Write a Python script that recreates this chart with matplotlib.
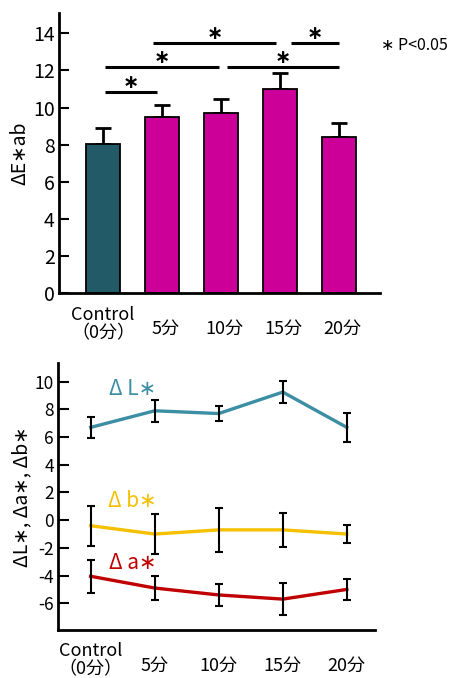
import matplotlib
matplotlib.use("Agg")
import matplotlib.pyplot as plt
import numpy as np

plt.rcParams['font.family'] = ['Noto Sans CJK JP', 'DejaVu Sans']

# ---- data ----
categories = ["Control\n（0分）", "5分", "10分", "15分", "20分"]
dE_mean = [8.05, 9.5, 9.7, 11.0, 8.4]
dE_err = [0.85, 0.63, 0.77, 0.86, 0.79]

dL_mean = [6.7, 7.9, 7.7, 9.25, 6.7]
dL_err = [0.73, 0.78, 0.56, 0.77, 1.06]
db_mean = [-0.4, -1.0, -0.7, -0.7, -1.0]
db_err = [1.46, 1.42, 1.6, 1.24, 0.67]
da_mean = [-4.05, -4.9, -5.4, -5.7, -5.0]
da_err = [1.2, 0.85, 0.8, 1.18, 0.75]

# significance brackets: (x_start, x_end, y)
sig_lines = [(0.03, 0.92, 10.85), (0.03, 1.97, 12.2), (2.1, 4.0, 12.2),
             (0.85, 2.93, 13.46), (3.19, 4.0, 13.46)]

bar_colors = ["#235a68", "#cc0099", "#cc0099", "#cc0099", "#cc0099"]
c_L = "#3b8ea3"
c_b = "#f5c000"
c_a = "#c00000"

fig = plt.figure(figsize=(4.53, 6.78), dpi=100)

# ---------- top panel ----------
ax1 = fig.add_axes([59/453, 1-293/678, 321/453, 280/678])
x = np.arange(len(categories))
ax1.bar(x, dE_mean, width=0.58, color=bar_colors, edgecolor='black', linewidth=1.3, zorder=2)
ax1.errorbar(x, dE_mean, yerr=[np.zeros(len(dE_err)), dE_err], fmt='none',
             ecolor='black', elinewidth=2.0, capsize=6, capthick=2.0, zorder=1)
ax1.set_xlim(-0.746, 4.69)
ax1.set_ylim(0, 15.1)
ax1.set_yticks([0, 2, 4, 6, 8, 10, 12, 14])
ax1.tick_params(axis='y', direction='in', length=7, width=1.5, labelsize=14, pad=3)
ax1.set_xticks([])
for s in ['top', 'right']:
    ax1.spines[s].set_visible(False)
for s in ['left', 'bottom']:
    ax1.spines[s].set_linewidth(2)
ax1.set_ylabel("ΔE∗ab", fontsize=14, labelpad=2)
for (xs, xe, yy) in sig_lines:
    ax1.plot([xs, xe], [yy, yy], color='black', lw=2.2, solid_capstyle='butt', clip_on=False)
    ax1.annotate("∗", xy=((xs + xe) / 2, yy), xytext=(0, 7), textcoords='offset points',
                 ha='center', va='center', fontsize=14, fontweight='bold',
                 family=['DejaVu Sans'])
fig.text(381/453, 1-45/678, "∗ P<0.05", ha='left', va='center', fontsize=11.5)

tr1 = ax1.get_xaxis_transform()
for i, lab in enumerate(categories):
    if i == 0:
        ax1.text(i, -0.045, lab, transform=tr1, ha='center', va='top', fontsize=13, linespacing=1.05)
    else:
        ax1.text(i + 0.05, -0.095, lab, transform=tr1, ha='center', va='top', fontsize=13)

# ---------- bottom panel ----------
ax2 = fig.add_axes([58/453, 1-630/678, 317/453, 267/678])
ax2.plot(x, dL_mean, color=c_L, lw=2.4, zorder=2)
ax2.plot(x, db_mean, color=c_b, lw=2.4, zorder=2)
ax2.plot(x, da_mean, color=c_a, lw=2.4, zorder=2)
for m, e in [(dL_mean, dL_err), (db_mean, db_err), (da_mean, da_err)]:
    ax2.errorbar(x, m, yerr=e, fmt='none', ecolor='black', elinewidth=1.5,
                 capsize=3, capthick=1.5, zorder=3)
ax2.set_xlim(-0.51, 4.44)
ax2.set_ylim(-7.93, 11.35)
ax2.set_yticks([-6, -4, -2, 0, 2, 4, 6, 8, 10])
ax2.set_yticklabels(["-6", "-4", "-2", "0", "2", "4", "6", "8", "10"])
ax2.tick_params(axis='y', direction='in', length=8, width=1.5, labelsize=12.5, pad=3)
ax2.set_xticks([])
for s in ['top', 'right']:
    ax2.spines[s].set_visible(False)
for s in ['left', 'bottom']:
    ax2.spines[s].set_linewidth(2)
ax2.set_ylabel("ΔL∗, Δa∗, Δb∗", fontsize=14, labelpad=2)
ax2.text(0.29, 9.5, "Δ L∗", color=c_L, fontsize=15, ha='left', va='center')
ax2.text(0.27, 1.35, "Δ b∗", color=c_b, fontsize=15, ha='left', va='center')
ax2.text(0.29, -3.1, "Δ a∗", color=c_a, fontsize=15, ha='left', va='center')

tr2 = ax2.get_xaxis_transform()
for i, lab in enumerate(categories):
    if i == 0:
        ax2.text(i, -0.045, lab, transform=tr2, ha='center', va='top', fontsize=13, linespacing=1.05)
    else:
        ax2.text(i, -0.1, lab, transform=tr2, ha='center', va='top', fontsize=13)

fig.savefig("out.png", dpi=100)
